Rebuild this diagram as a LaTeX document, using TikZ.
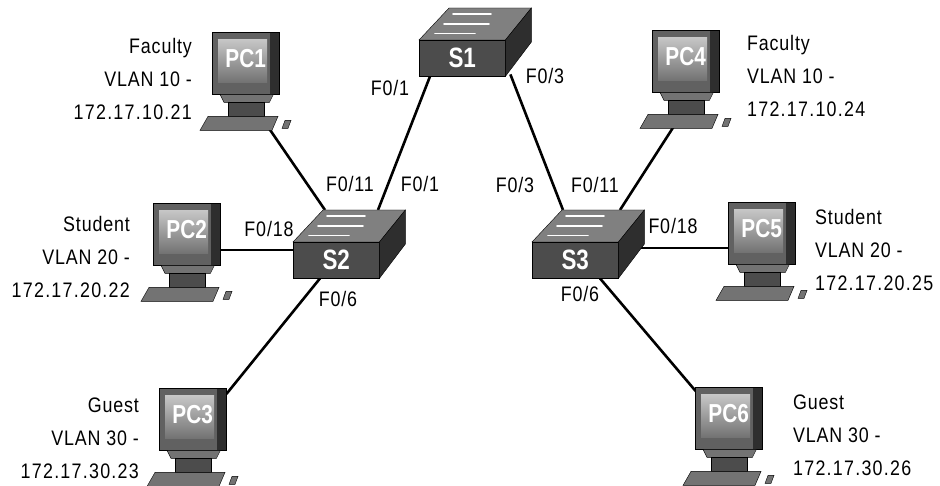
\documentclass[tikz,border=0pt]{standalone}
\usepackage{fontspec}
\setmainfont{Liberation Sans}[FakeStretch=0.85,LetterSpace=4]
\newfontfamily\ipfont{Liberation Sans}[FakeStretch=0.85,LetterSpace=6]
\newfontfamily\iconfont{Liberation Sans}[FakeStretch=0.8]
\usetikzlibrary{calc,backgrounds}

\tikzset{
  lbl/.style={font=\fontsize{21}{33}\selectfont, inner sep=0pt},
  port/.style={font=\fontsize{21}{25}\selectfont, inner sep=0pt},
  link/.style={line width=2.6pt},
  switch/.style={draw=black, fill=black!70, minimum width=86pt, minimum height=36pt,
    inner sep=0pt, text=white, font=\iconfont\bfseries\fontsize{28}{28}\selectfont},
  swtop/.style={draw=black, fill=black!50},
  swside/.style={draw=black, fill=black!82},
  streak/.style={white, line width=1.8pt, line cap=round},
  pc/.style={draw=black, fill=black!62, minimum width=67pt, minimum height=62pt,
    inner sep=0pt, text height=20pt, text depth=12pt, text=white,
    font=\iconfont\bfseries\fontsize{26}{26}\selectfont,
    path picture={
      \fill[black!82] ($(path picture bounding box.north east)+(-9,0)$) rectangle (path picture bounding box.south east);
      \shade[top color=black!22, bottom color=black!55] ($(path picture bounding box.north west)+(6,7)$) rectangle ($(path picture bounding box.south east)+(-12,-12)$);
    }},
  pcpart/.style={draw=black, fill=black!55},
}

% top and side faces of a switch
\newcommand{\swbody}[1]{
  \filldraw[swtop] (#1.north west) -- (#1.north east) -- ($(#1.north east)+(26,-32)$) -- ($(#1.north west)+(30,-32)$) -- cycle;
  \filldraw[swside] (#1.north east) -- ($(#1.north east)+(26,-32)$) -- ($(#1.north east)+(26,2)$) -- (#1.south east) -- cycle;
  \foreach \t/\l in {0.2/40,0.5/45,0.8/38}
    \draw[streak] ($(#1.north west)+({30*\t+10},{-32*\t})$) -- ++(\l,0);
}

% stand, keyboard and mouse under a monitor
\newcommand{\pcdesk}[1]{
  \filldraw[pcpart] ($(#1.south west)+(8,0)$) -- ($(#1.south east)+(-6,0)$) -- ($(#1.south east)+(-10,8)$) -- ($(#1.south west)+(12,8)$) -- cycle;
  \filldraw[pcpart, fill=black!70] ($(#1.south west)+(16,8)$) rectangle ($(#1.south west)+(52,22)$);
  \filldraw[pcpart] ($(#1.south west)+(-12,36)$) -- ($(#1.south west)+(60,36)$) -- ($(#1.south west)+(66,22)$) -- ($(#1.south west)+(-4,22)$) -- cycle;
  \filldraw[pcpart] ($(#1.south west)+(70,34)$) -- ++(6,0) -- ++(3,-8) -- ++(-6,0) -- cycle;
}

\begin{document}
\begin{tikzpicture}[x=1pt,y=-1pt]
\useasboundingbox (0,0) rectangle (940,486);

\node[switch, anchor=north west] (s1) at (419,40) {S1};
\node[switch, anchor=north west] (s2) at (293,242) {S2};
\node[switch, anchor=north west] (s3) at (532,242) {S3};
\swbody{s1}
\swbody{s2}
\swbody{s3}

\node[pc, anchor=north west] (pc1) at (212,32) {PC1};
\node[pc, anchor=north west] (pc2) at (153,203) {PC2};
\node[pc, anchor=north west] (pc3) at (159,388) {PC3};
\node[pc, anchor=north west] (pc4) at (652,30) {PC4};
\node[pc, anchor=north west] (pc5) at (728,202) {PC5};
\node[pc, anchor=north west] (pc6) at (695,387) {PC6};
\pcdesk{pc1}
\pcdesk{pc2}
\pcdesk{pc3}
\pcdesk{pc4}
\pcdesk{pc5}
\pcdesk{pc6}

\node[lbl, anchor=east, align=right] (pc1lbl) at (192,79) {Faculty\\VLAN 10 -\\{\ipfont 172.17.10.21}};
\node[lbl, anchor=east, align=right] (pc2lbl) at (130,257) {Student\\VLAN 20 -\\{\ipfont 172.17.20.22}};
\node[lbl, anchor=east, align=right] (pc3lbl) at (139,438) {Guest\\VLAN 30 -\\{\ipfont 172.17.30.23}};
\node[lbl, anchor=west, align=left] (pc4lbl) at (747,76) {Faculty\\VLAN 10 -\\{\ipfont 172.17.10.24}};
\node[lbl, anchor=west, align=left] (pc5lbl) at (815,250) {Student\\VLAN 20 -\\{\ipfont 172.17.20.25}};
\node[lbl, anchor=west, align=left] (pc6lbl) at (793,435) {Guest\\VLAN 30 -\\{\ipfont 172.17.30.26}};

\node[port] (s1p1) at (390,88) {F0/1};
\node[port] (s1p3) at (545,76) {F0/3};
\node[port] (s2p11) at (350,184) {F0/11};
\node[port] (s2p1) at (420,184) {F0/1};
\node[port] (s2p18) at (269,229) {F0/18};
\node[port] (s2p6) at (338,299) {F0/6};
\node[port] (s3p3) at (515,185) {F0/3};
\node[port] (s3p11) at (595,185) {F0/11};
\node[port] (s3p18) at (673,226) {F0/18};
\node[port] (s3p6) at (580,294) {F0/6};

\begin{pgfonlayer}{background}
\coordinate (s2-f18) at ($(s2.north west)+(0,8)$);
\coordinate (s3-f18) at ($(s3.north east)+(10,6)$);
\draw[link] ($(s1.south west)+(11,0)$) -- ($(s2.north west)+(85,-32)$);
\draw[link] ($(s1.south east)+(5,-2)$) -- ($(s3.north west)+(31,-32)$);
\draw[link] (pc1.south) -- ($(s2.north west)+(32,-32)$);
\draw[link] (s2-f18) -- (pc2.east |- s2-f18);
\draw[link] ($(s2.south west)+(27,0)$) -- ($(pc3.north east)+(0,6)$);
\draw[link] ($(pc4.south)+(10,0)$) -- ($(s3.north west)+(88,-32)$);
\draw[link] (s3-f18) -- (pc5.west |- s3-f18);
\draw[link] ($(s3.south west)+(68,0)$) -- ($(pc6.north west)+(4,8)$);
\end{pgfonlayer}
\end{tikzpicture}
\end{document}
